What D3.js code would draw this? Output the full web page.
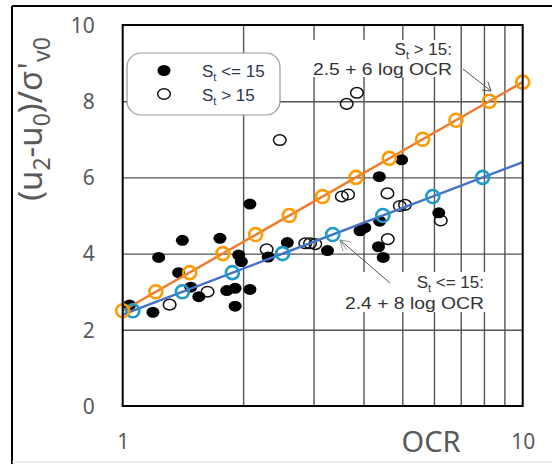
<!DOCTYPE html>
<html lang="en">
	<head>
		<meta charset="utf-8">
		<title>Excess pore pressure vs OCR</title>
		<script type="text/javascript" src="https://cdn.jsdelivr.net/npm/d3@7"></script>
		<style type="text/css">
			body { margin: 0; background: #fff; }
			.grid line { stroke: #555; stroke-width: 1.4; }
			.grid path { display: none; }
			.ticklab text { font-family: "Noto Sans", sans-serif; font-size: 21px; fill: #595959; }
			.note { font-family: "Liberation Sans", Arial, sans-serif; font-size: 17px; fill: #333; }
		</style>
	</head>
	<body>
		<script type="text/javascript">

			// St <= 15 (filled)
			var softOcr = [1.04, 1.19, 1.23, 1.41, 1.38, 1.48, 1.55, 1.75, 1.82, 1.91, 1.91, 1.95, 1.98, 2.08, 2.08, 2.31, 2.58, 3.25, 3.92, 4.03, 4.39, 4.36, 4.48, 4.38, 4.98, 6.17];
			var softVal = [2.65, 2.46, 3.90, 4.35, 3.50, 3.12, 2.87, 4.40, 3.03, 3.09, 2.62, 3.96, 3.79, 3.06, 5.30, 3.91, 4.29, 4.08, 4.60, 4.68, 4.85, 4.18, 3.90, 6.02, 6.46, 5.07];
			// St > 15 (open)
			var sensOcr = [1.31, 1.63, 2.29, 2.86, 2.94, 3.03, 3.53, 3.66, 3.63, 3.85, 2.47, 4.59, 4.93, 5.08, 6.24, 4.60];
			var sensVal = [2.66, 3.00, 4.11, 4.27, 4.27, 4.25, 5.50, 5.55, 7.93, 8.22, 6.98, 5.58, 5.25, 5.28, 4.87, 4.38];

			// fitted lines (end points) and their markers
			var lineOcr = [1, 10];
			var orangeLine = [2.5, 8.5];
			var blueLine = [2.4, 6.4];
			var orangeMkOcr = [1, 1.21, 1.47, 1.78, 2.15, 2.61, 3.16, 3.83, 4.64, 5.62, 6.81, 8.25, 10];
			var orangeMkVal = [2.5, 3, 3.5, 4, 4.5, 5, 5.5, 6, 6.5, 7, 7.5, 8, 8.5];
			var blueMkOcr = [1.06, 1.41, 1.88, 2.51, 3.35, 4.47, 5.96, 7.94];
			var blueMkVal = [2.5, 3, 3.5, 4, 4.5, 5, 5.5, 6];

			var yTicks = [0, 2, 4, 6, 8, 10];
			var xTicks = [1, 2, 3, 4, 5, 6, 7, 8, 9, 10];

			var W = 552, H = 464;
			var pLeft = 122.7, pRight = 522.7, pTop = 25, pBottom = 406;

			var svg = d3.select("body").append("svg")
				.attr("width", W).attr("height", H);

			// outer frame
			svg.append("line").attr("x1", 12).attr("y1", 6).attr("x2", 12).attr("y2", H).attr("stroke", "#000").attr("stroke-width", 2);
			svg.append("line").attr("x1", 12).attr("y1", 6).attr("x2", W).attr("y2", 6).attr("stroke", "#000").attr("stroke-width", 2);
			svg.append("line").attr("x1", 12).attr("y1", 462).attr("x2", W).attr("y2", 462).attr("stroke", "#ddd").attr("stroke-width", 1);

			var x = d3.scaleLog().domain([1, 10]).range([pLeft, pRight]);
			var y = d3.scaleLinear().domain([0, 10]).range([pBottom, pTop]);

			// grid
			svg.append("g").attr("class", "grid")
				.attr("transform", "translate(0," + pBottom + ")")
				.call(d3.axisBottom(x).tickValues(xTicks.slice(1, -1)).tickSize(-(pBottom - pTop)).tickFormat(""));
			svg.append("g").attr("class", "grid")
				.attr("transform", "translate(" + pLeft + ",0)")
				.call(d3.axisLeft(y).tickValues(yTicks.slice(1, -1)).tickSize(-(pRight - pLeft)).tickFormat(""));

			// tick labels
			var yAx = svg.append("g").attr("class", "ticklab")
				.attr("transform", "translate(" + pLeft + ",0)")
				.call(d3.axisLeft(y).tickValues(yTicks).tickSize(0).tickPadding(28));
			yAx.select(".domain").remove();
			yAx.selectAll("text").attr("dy", "0.35em");

			var xAx = svg.append("g").attr("class", "ticklab")
				.attr("transform", "translate(0," + pBottom + ")")
				.call(d3.axisBottom(x).tickValues([1, 10]).tickSize(0).tickPadding(28).tickFormat(d3.format("d")));
			xAx.select(".domain").remove();

			// annotation boxes (white backgrounds over grid)
			svg.append("rect").attr("x", 310).attr("y", 40).attr("width", 144).attr("height", 37).attr("fill", "#fff");
			svg.append("rect").attr("x", 342).attr("y", 272).attr("width", 144).attr("height", 40).attr("fill", "#fff");

			// legend box
			svg.append("rect").attr("x", 127).attr("y", 53).attr("width", 153).attr("height", 62)
				.attr("rx", 14).attr("fill", "#fff").attr("stroke", "#999").attr("stroke-width", 1.2);

			// scatter
			svg.append("g").selectAll("ellipse")
				.data(d3.range(sensOcr.length)).enter().append("ellipse")
				.attr("cx", function(i) { return x(sensOcr[i]); })
				.attr("cy", function(i) { return y(sensVal[i]); })
				.attr("rx", 6.3).attr("ry", 5.3)
				.attr("fill", "none").attr("stroke", "#111").attr("stroke-width", 1.5);

			svg.append("g").selectAll("ellipse")
				.data(d3.range(softOcr.length)).enter().append("ellipse")
				.attr("cx", function(i) { return x(softOcr[i]); })
				.attr("cy", function(i) { return y(softVal[i]); })
				.attr("rx", 6.5).attr("ry", 5.5)
				.attr("fill", "#000");

			// fitted lines
			var line = d3.line()
				.x(function(d) { return x(d[0]); })
				.y(function(d) { return y(d[1]); });

			svg.append("path").datum(d3.zip(lineOcr, blueLine))
				.attr("d", line).attr("fill", "none").attr("stroke", "#4472C4").attr("stroke-width", 2.5);
			svg.append("path").datum(d3.zip(lineOcr, orangeLine))
				.attr("d", line).attr("fill", "none").attr("stroke", "#ED7D31").attr("stroke-width", 2.5);

			svg.append("g").selectAll("circle")
				.data(d3.zip(blueMkOcr, blueMkVal)).enter().append("circle")
				.attr("cx", function(d) { return x(d[0]); })
				.attr("cy", function(d) { return y(d[1]); })
				.attr("r", 6.5).attr("fill", "none").attr("stroke", "#1E9AC9").attr("stroke-width", 2.6);
			svg.append("g").selectAll("circle")
				.data(d3.zip(orangeMkOcr, orangeMkVal)).enter().append("circle")
				.attr("cx", function(d) { return x(d[0]); })
				.attr("cy", function(d) { return y(d[1]); })
				.attr("r", 6.5).attr("fill", "none").attr("stroke", "#FF9A00").attr("stroke-width", 2.6);

			// plot frame
			svg.append("rect").attr("x", pLeft).attr("y", pTop).attr("width", pRight - pLeft).attr("height", pBottom - pTop)
				.attr("fill", "none").attr("stroke", "#000").attr("stroke-width", 2);

			// legend content
			svg.append("ellipse").attr("cx", 164).attr("cy", 70.5).attr("rx", 6.5).attr("ry", 5.5).attr("fill", "#000");
			svg.append("ellipse").attr("cx", 164).attr("cy", 94).attr("rx", 6.3).attr("ry", 5.3)
				.attr("fill", "none").attr("stroke", "#111").attr("stroke-width", 1.5);

			function stLabel(g, xx, yy, rest, anchor) {
				var t = g.append("text").attr("class", "note").attr("x", xx).attr("y", yy)
					.attr("text-anchor", anchor || "start");
				t.append("tspan").text("S");
				t.append("tspan").attr("dy", 4).style("font-size", "11px").text("t");
				t.append("tspan").attr("dy", -4).text(rest);
				return t;
			}
			stLabel(svg, 202, 77, " <= 15").style("fill", "#2a3550");
			stLabel(svg, 202, 101, " > 15").style("fill", "#2a3550");

			// annotations
			stLabel(svg, 452, 55, " > 15:", "end");
			svg.append("text").attr("class", "note").attr("x", 452).attr("y", 75)
				.attr("text-anchor", "end").attr("textLength", 139).attr("lengthAdjust", "spacingAndGlyphs")
				.text("2.5 + 6 log OCR");
			stLabel(svg, 484, 288, " <= 15:", "end");
			svg.append("text").attr("class", "note").attr("x", 484).attr("y", 309)
				.attr("text-anchor", "end").attr("textLength", 139).attr("lengthAdjust", "spacingAndGlyphs")
				.text("2.4 + 8 log OCR");

			// arrows
			svg.append("line").attr("x1", 463).attr("y1", 69).attr("x2", 491).attr("y2", 91)
				.attr("stroke", "#555").attr("stroke-width", 1);
			svg.append("path").attr("d", "M482,90 L491,91 L488,82").attr("fill", "none").attr("stroke", "#555").attr("stroke-width", 1);
			svg.append("line").attr("x1", 390).attr("y1", 283).attr("x2", 340).attr("y2", 240)
				.attr("stroke", "#555").attr("stroke-width", 1);
			svg.append("path").attr("d", "M340,240 L343,251 M340,240 L351,242 M340,240 L347,250")
				.attr("fill", "none").attr("stroke", "#777").attr("stroke-width", 0.8);

			// axis titles
			svg.append("text").attr("x", 431).attr("y", 452).attr("text-anchor", "middle")
				.style("font-family", "Noto Sans, sans-serif").style("font-size", "29px").style("fill", "#595959")
				.text("OCR");

			var yt = svg.append("text").attr("transform", "translate(42,119) rotate(-90)")
				.attr("text-anchor", "middle")
				.style("font-family", "Noto Sans, sans-serif").style("font-size", "33px").style("fill", "#595959");
			yt.append("tspan").text("(u");
			yt.append("tspan").attr("dy", 8).style("font-size", "23px").text("2");
			yt.append("tspan").attr("dy", -8).text("-u");
			yt.append("tspan").attr("dy", 8).style("font-size", "23px").text("0");
			yt.append("tspan").attr("dy", -8).text(")/σ'");
			yt.append("tspan").attr("dy", 8).style("font-size", "23px").text("v0");
		</script>
	</body>
</html>
